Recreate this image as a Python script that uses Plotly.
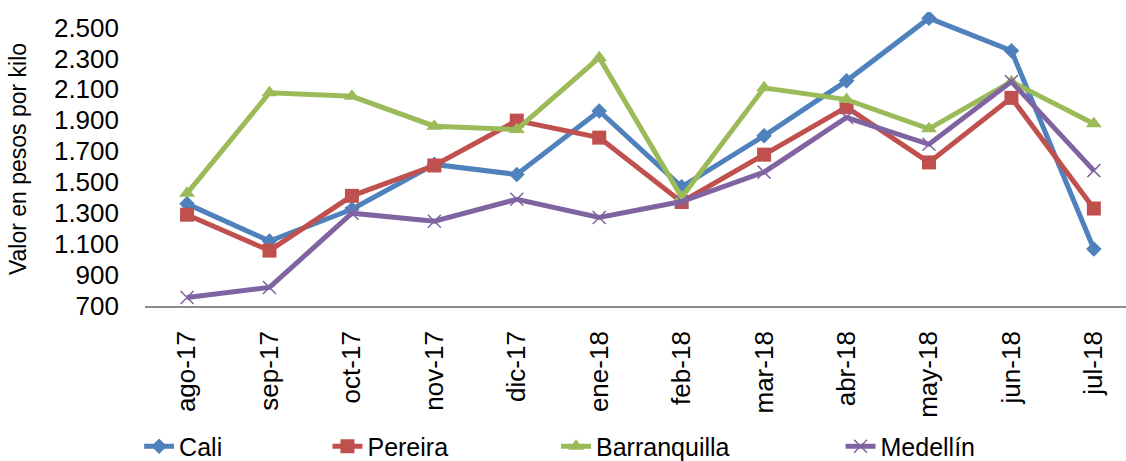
import plotly.graph_objects as go

meses = ["ago-17", "sep-17", "oct-17", "nov-17", "dic-17", "ene-18",
         "feb-18", "mar-18", "abr-18", "may-18", "jun-18", "jul-18"]

cali = [1360, 1120, 1325, 1615, 1550, 1960, 1470, 1800, 2155, 2560, 2350, 1068]
pereira = [1290, 1058, 1412, 1608, 1898, 1788, 1372, 1678, 1985, 1628, 2045, 1330]
barranquilla = [1428, 2078, 2055, 1862, 1840, 2305, 1402, 2110, 2034, 1845, 2150, 1878]
medellin = [755, 820, 1300, 1248, 1390, 1272, 1375, 1565, 1918, 1745, 2150, 1575]

y_ticks = [700, 900, 1100, 1300, 1500, 1700, 1900, 2100, 2300, 2500]
y_ticktext = ["700", "900", "1.100", "1.300", "1.500", "1.700", "1.900", "2.100", "2.300", "2.500"]

FONT = "Liberation Sans, Arial, sans-serif"
series = [
    ("Cali", cali, "#4F81BD", dict(symbol="diamond", size=12), "legend", -0.006),
    ("Pereira", pereira, "#C0504D", dict(symbol="square", size=14), "legend2", 0.186),
    ("Barranquilla", barranquilla, "#9BBB59", dict(symbol="triangle-up", size=14), "legend3", 0.419),
    ("Medellín", medellin, "#8064A2", dict(symbol="x-thin", size=13), "legend4", 0.709),
]

fig = go.Figure()
for name, vals, color, mk, leg, lx in series:
    marker = dict(color=color, symbol=mk["symbol"], size=mk["size"])
    if mk["symbol"] == "x-thin":
        marker["line"] = dict(color=color, width=1.5)
    fig.add_trace(go.Scatter(
        x=list(range(len(meses))), y=vals, name=name, mode="lines+markers",
        line=dict(color=color, width=5), marker=marker, legend=leg,
    ))

legend_common = dict(orientation="h", yanchor="middle", y=-0.478, xanchor="left",
                     font=dict(family=FONT, size=25, color="#000000"),
                     bgcolor="rgba(0,0,0,0)")
layout_legends = {}
for name, vals, color, mk, leg, lx in series:
    layout_legends[leg] = dict(legend_common, x=lx)

fig.update_layout(
    width=1126, height=461,
    margin=dict(l=145, r=0, t=12, b=155, autoexpand=False),
    paper_bgcolor="white", plot_bgcolor="white",
    font=dict(family=FONT, size=26, color="#000000"),
    showlegend=True,
    **layout_legends,
)
fig.update_xaxes(
    range=[-0.51, 11.39],
    tickmode="array", tickvals=list(range(len(meses))), ticktext=meses,
    tickangle=-90, showgrid=False, zeroline=False,
    showline=True, linecolor="#8C8C8C", linewidth=1.5,
    ticks="", ticklabelstandoff=13, automargin=False,
    tickfont=dict(family=FONT, size=26, color="#000000"),
)
fig.update_yaxes(
    range=[700, 2600],
    tickmode="array", tickvals=y_ticks, ticktext=y_ticktext,
    showgrid=False, zeroline=False, showline=False, ticks="",
    ticklabelstandoff=25, automargin=False,
    tickfont=dict(family=FONT, size=26, color="#000000"),
    title=dict(text="Valor en pesos por kilo", font=dict(family=FONT, size=23, color="#000000"),
               standoff=20),
)

fig.write_html("out.html", config={"displayModeBar": False},
               post_script="document.body.style.margin='0';document.body.style.overflow='hidden';")
